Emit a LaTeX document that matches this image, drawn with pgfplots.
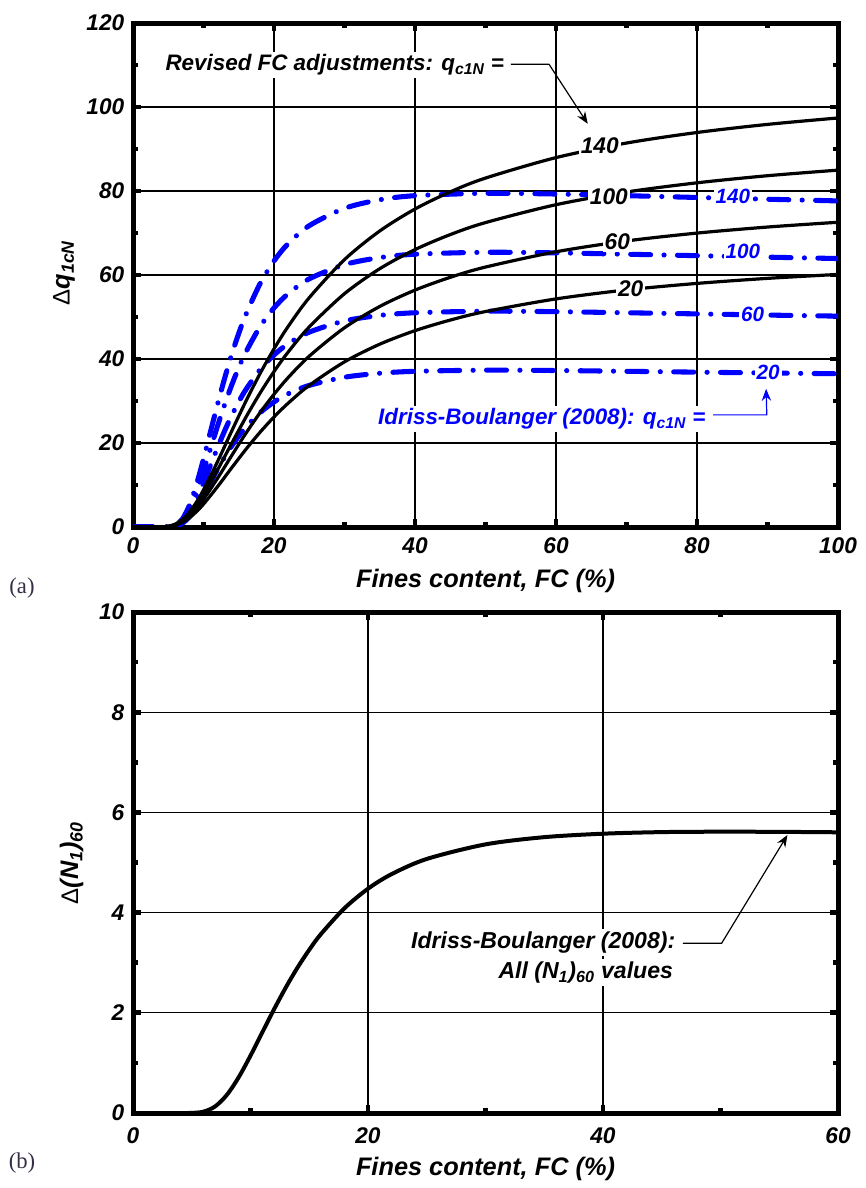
\documentclass[border=0pt]{standalone}
\usepackage{fontspec}
\setmainfont{Liberation Sans}
\newfontfamily\seriffont{Liberation Serif}
\usepackage{pgfplots}
\pgfplotsset{compat=1.18}
\usetikzlibrary{arrows.meta}
\definecolor{ibblue}{RGB}{0,0,255}
\definecolor{lblcol}{RGB}{55,45,70}
\newcommand{\fs}[1]{\fontsize{#1}{#1}\selectfont\bfseries\itshape}
\newcommand{\dlt}{{\fontsize{18pt}{18pt}\selectfont\mdseries\upshape\symbol{"0394}}}
\tikzset{
  ibdash/.style={ibblue, line width=3.8pt, line cap=round, dash pattern=on 15pt off 10pt on 0.1pt off 10pt, smooth, tension=0.5},
  blk/.style={black, line width=2.4pt, smooth, tension=0.5},
}
\pgfplotsset{
  myaxis/.style={
    scale only axis,
    axis line style={line width=3.75pt},
    grid=major,
    major grid style={line width=1pt, black},
    tick align=inside,
    xtick pos=both, ytick pos=both,
    major tick length=6pt, minor tick length=4pt,
    every tick/.style={line width=3.5pt, black},
    minor x tick num=1, minor y tick num=1,
    tick label style={font=\fs{17pt}},
    /pgf/number format/assume math mode=true,
    label style={font=\fs{19pt}},
    clip mode=individual,
  }
}
\begin{document}
\begin{tikzpicture}
\useasboundingbox (0,0) rectangle (649.5pt,-891pt);
% ---------------- (a) ----------------
\begin{axis}[myaxis,
  at={(99.75pt,-395.25pt)}, anchor=south west,
  width=528.75pt, height=378pt,
  xmin=0, xmax=100, ymin=0, ymax=120,
  xtick={0,20,...,100}, ytick={0,20,...,120},
  xticklabel style={yshift=-4.5pt},
  yticklabel style={xshift=-3pt},
  xlabel={Fines content, FC (\%)},
  ylabel={\dlt q\textsubscript{1cN}},
  xlabel style={at={(axis description cs:0.5,-0.107)}, anchor=center},
  ylabel style={at={(axis description cs:-0.098,0.504)}, anchor=center, rotate=0},
]
% Idriss-Boulanger (2008)
\addplot[ibdash] coordinates {(0,0)(3,0)(4,0)(5,0.03)(6,0.39)(7,1.89)(8,5.16)(9,10.12)(10,16.20)(11,22.75)(12,29.26)(13,35.42)(14,41.06)(15,46.10)(16,50.56)(18,57.85)(20,63.35)(22,67.45)(25,71.75)(30,75.87)(35,77.91)(40,78.89)(50,79.45)(60,79.28)(70,78.89)(80,78.46)(90,78.04)(100,77.64)};
\addplot[ibdash] coordinates {(0,0)(3,0)(4,0)(5,0.02)(6,0.32)(7,1.55)(8,4.25)(9,8.33)(10,13.33)(11,18.73)(12,24.09)(13,29.17)(14,33.80)(15,37.96)(16,41.63)(18,47.63)(20,52.16)(22,55.54)(25,59.08)(30,62.47)(35,64.14)(40,64.95)(50,65.41)(60,65.27)(70,64.95)(80,64.60)(90,64.25)(100,63.92)};
\addplot[ibdash] coordinates {(0,0)(3,0)(4,0)(5,0.02)(6,0.25)(7,1.22)(8,3.34)(9,6.54)(10,10.47)(11,14.71)(12,18.92)(13,22.91)(14,26.55)(15,29.81)(16,32.69)(18,37.41)(20,40.96)(22,43.62)(25,46.40)(30,49.06)(35,50.38)(40,51.01)(50,51.38)(60,51.27)(70,51.01)(80,50.74)(90,50.46)(100,50.21)};
\addplot[ibdash] coordinates {(0,0)(3,0)(4,0)(5,0.01)(6,0.18)(7,0.89)(8,2.43)(9,4.76)(10,7.61)(11,10.69)(12,13.75)(13,16.65)(14,19.30)(15,21.67)(16,23.76)(18,27.19)(20,29.77)(22,31.70)(25,33.72)(30,35.66)(35,36.61)(40,37.07)(50,37.34)(60,37.26)(70,37.07)(80,36.87)(90,36.67)(100,36.49)};
% Revised FC adjustments
\addplot[blk] coordinates {(0,0)(3,0)(4,0.02)(5,0.18)(6,0.69)(7,1.78)(8,3.53)(9,5.92)(10,8.83)(12,15.60)(14,22.84)(16,29.90)(18,36.46)(20,42.41)(22,47.73)(25,54.60)(30,63.67)(35,70.48)(40,75.71)(45,79.79)(50,83.08)(60,87.95)(70,91.42)(80,93.93)(90,95.86)(100,97.39)};
\addplot[blk] coordinates {(0,0)(3,0)(4,0.02)(5,0.16)(6,0.60)(7,1.55)(8,3.08)(9,5.17)(10,7.70)(12,13.61)(14,19.92)(16,26.09)(18,31.82)(20,37.00)(22,41.64)(25,47.64)(30,55.55)(35,61.50)(40,66.05)(45,69.62)(50,72.48)(60,76.74)(70,79.76)(80,81.95)(90,83.64)(100,84.97)};
\addplot[blk] coordinates {(0,0)(3,0)(4,0.02)(5,0.13)(6,0.52)(7,1.33)(8,2.63)(9,4.41)(10,6.58)(12,11.62)(14,17.01)(16,22.28)(18,27.17)(20,31.60)(22,35.56)(25,40.68)(30,47.44)(35,52.51)(40,56.40)(45,59.45)(50,61.89)(60,65.53)(70,68.11)(80,69.98)(90,71.42)(100,72.56)};
\addplot[blk] coordinates {(0,0)(3,0)(4,0.01)(5,0.11)(6,0.43)(7,1.10)(8,2.18)(9,3.66)(10,5.45)(12,9.63)(14,14.10)(16,18.46)(18,22.52)(20,26.19)(22,29.47)(25,33.72)(30,39.32)(35,43.53)(40,46.75)(45,49.27)(50,51.30)(60,54.31)(70,56.45)(80,58.00)(90,59.20)(100,60.14)};
% labels
\node[fill=white, inner sep=2pt, anchor=west, font=\fs{16.8pt}] at (axis cs:4.2,110) {Revised FC adjustments: q\textsubscript{c1N} =};
\draw[line width=0.9pt, -{Stealth[length=9pt,width=7pt]}] (axis cs:53.6,110.2) -- (axis cs:59,110.2) -- (axis cs:64.5,96);
\node[fill=white, inner sep=1.5pt, font=\fs{17pt}] at (axis cs:66.2,90.7) {140};
\node[fill=white, inner sep=1.5pt, font=\fs{17pt}] at (axis cs:67.5,78.6) {100};
\node[fill=white, inner sep=1.5pt, font=\fs{17pt}] at (axis cs:68.7,67.9) {60};
\node[fill=white, inner sep=1.5pt, font=\fs{17pt}] at (axis cs:70.6,56.7) {20};
\node[fill=white, inner sep=1.5pt, text=ibblue, font=\fs{15.5pt}] at (axis cs:85.1,78.6) {140};
\node[fill=white, inner sep=1.5pt, text=ibblue, font=\fs{15.5pt}] at (axis cs:86.5,65.7) {100};
\node[fill=white, inner sep=1.5pt, text=ibblue, font=\fs{15.5pt}] at (axis cs:87.9,50.7) {60};
\node[fill=white, inner sep=1.5pt, text=ibblue, font=\fs{15.5pt}] at (axis cs:90.1,36.7) {20};
\node[fill=white, inner sep=2pt, anchor=east, text=ibblue, font=\fs{16.8pt}] at (axis cs:81.6,25.7) {Idriss-Boulanger (2008): q\textsubscript{c1N} =};
\draw[ibblue, line width=0.9pt, -{Stealth[length=9pt,width=7pt]}] (axis cs:82.3,26.7) -- (axis cs:89.9,26.7) -- (axis cs:89.8,32.9);
\end{axis}
% ---------------- (b) ----------------
\begin{axis}[myaxis,
  at={(99.75pt,-834.75pt)}, anchor=south west,
  width=528.75pt, height=375.75pt,
  xmin=0, xmax=60, ymin=0, ymax=10,
  xtick={0,20,40,60}, ytick={0,2,...,10},
  xticklabel style={yshift=-7.5pt},
  yticklabel style={xshift=-3pt},
  xlabel={Fines content, FC (\%)},
  ylabel={\dlt(N\textsubscript{1})\textsubscript{60}},
  xlabel style={at={(axis description cs:0.5,-0.112)}, anchor=center},
  ylabel style={at={(axis description cs:-0.087,0.499)}, anchor=center, rotate=0},
]
\addplot[black, line width=3pt, smooth, tension=0.5] coordinates {(0,0)(4,0)(5,0.002)(6,0.027)(7,0.133)(8,0.365)(9,0.715)(10,1.145)(11,1.608)(12,2.068)(13,2.504)(14,2.902)(15,3.258)(16,3.573)(18,4.088)(20,4.477)(22,4.767)(25,5.071)(30,5.362)(35,5.506)(40,5.575)(45,5.607)(50,5.615)(55,5.612)(60,5.603)};
\node[fill=white, inner sep=2pt, anchor=east, font=\fs{17.3pt}] at (axis cs:46.4,3.40) {Idriss-Boulanger (2008):};
\node[fill=white, inner sep=2pt, anchor=east, font=\fs{17.3pt}] at (axis cs:46.2,2.80) {All (N\textsubscript{1})\textsubscript{60} values};
\draw[line width=0.9pt, -{Stealth[length=9pt,width=7pt]}] (axis cs:46.8,3.39) -- (axis cs:50.1,3.39) -- (axis cs:55.7,5.55);
\end{axis}
\node[font=\seriffont\fontsize{17pt}{17pt}\selectfont, text=lblcol] at (16.5pt,-441pt) {(a)};
\node[font=\seriffont\fontsize{17pt}{17pt}\selectfont, text=lblcol] at (16.5pt,-872.25pt) {(b)};
\end{tikzpicture}
\end{document}
